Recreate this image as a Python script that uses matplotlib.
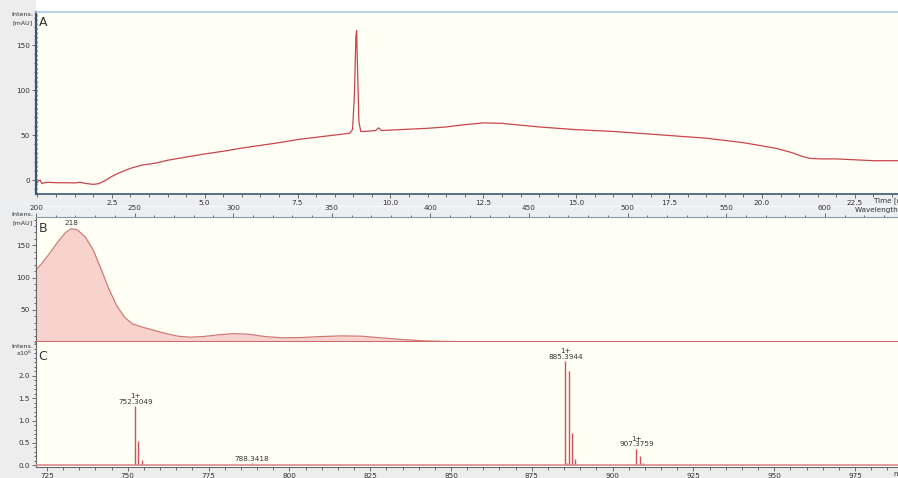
import numpy as np
import matplotlib
matplotlib.use('Agg')
import matplotlib.pyplot as plt
from matplotlib.ticker import MultipleLocator, FixedLocator, FormatStrFormatter
from matplotlib.patches import Rectangle

# A: UV chromatogram (time in min, intensity in mAU)
time_min = [0.45, 0.47, 0.52, 0.57, 0.62, 0.68, 0.8, 1.0, 1.3, 1.5, 1.65, 1.8, 2.0, 2.15,
            2.3, 2.5, 2.7, 3.0, 3.3, 3.7, 4.0, 4.5, 5.0, 5.5, 6.0, 6.5, 7.0, 7.5, 8.0, 8.5,
            8.9, 8.98, 9.03, 9.07, 9.09, 9.11, 9.15, 9.2, 9.3, 9.6, 9.68, 9.76, 10.0, 10.5,
            11.0, 11.5, 12.0, 12.5, 13.0, 13.5, 14.0, 14.5, 15.0, 15.5, 16.0, 16.5, 17.0,
            17.5, 18.0, 18.5, 19.0, 19.5, 20.0, 20.4, 20.8, 21.1, 21.3, 21.6, 22.0, 22.5,
            23.0, 23.7]
uv_mau = [-14, -4, -1, 0, -4, -3, -2.5, -3, -3, -3.2, -2.5, -3.8, -4.8, -4,
          -1, 4, 8, 13, 16.5, 19, 22, 25.5, 29, 32, 35.5, 38.5, 41.5, 45, 47.5, 50,
          52, 56, 95, 160, 166, 130, 65, 54, 54, 55, 58, 55, 55.5, 56.5,
          57.5, 59, 61.5, 63.5, 63, 61, 59, 57.5, 56, 55, 54, 52.5, 51,
          49.5, 48, 46.5, 44, 41.5, 38, 35, 30.5, 26, 24, 23.5, 23.5, 22.5,
          21.5, 21.5]

# B: UV spectrum of the main peak
wavelength = [200, 203, 207, 211, 215, 218, 221, 225, 229, 233, 237, 241, 245, 249, 254,
              260, 266, 272, 278, 285, 292, 300, 308, 316, 325, 335, 345, 355, 365, 375,
              385, 395, 405, 420, 450, 640]
absorb = [112, 122, 138, 155, 170, 176, 174, 163, 143, 113, 82, 56, 38, 28, 23,
          18, 13, 9, 7.5, 8.5, 11, 13, 12, 8.5, 6.5, 7, 8.5, 9.5, 9, 6.5,
          4, 2, 1, 0.3, 0, 0]
uv_max = 218

# C: mass spectrum (m/z, intensity x10^6)
mz = [752.3049, 753.31, 754.31, 788.3418, 789.34, 885.85, 885.3944, 886.40, 887.40,
      888.40, 907.3759, 908.38, 909.38]
ms_int = [1.32, 0.55, 0.12, 0.05, 0.02, 0.06, 2.32, 2.11, 0.73, 0.14, 0.37, 0.22, 0.05]
ms_labels = {752.3049: '1+\n752.3049', 788.3418: '788.3418',
             885.3944: '1+\n885.3944', 907.3759: '1+\n907.3759'}

W, H = 898, 478
trace = '#c8454c'
bg = '#fffff5'
txt = '#333333'
fs = 5.2

fig = plt.figure(figsize=(W / 100, H / 100), dpi=100, facecolor='#ededed')


def px_axes(left, top, right, bottom):
    return fig.add_axes([left / W, 1 - bottom / H, (right - left) / W, (bottom - top) / H])


def fig_text(x, y, s, **kw):
    fig.text(x / W, 1 - y / H, s, **kw)


# background bands (kept beneath the axes and their tick labels)
fig.patches.append(Rectangle((36 / W, 1 - 12 / H), 1, 12 / H, transform=fig.transFigure,
                             facecolor='white', edgecolor='none', zorder=-10))
fig.patches.append(Rectangle((0, 1 - 217 / H), 1, 23 / H, transform=fig.transFigure,
                             facecolor='#eceef0', edgecolor='none', zorder=-10))
fig.lines.append(plt.Line2D([36 / W, 1], [1 - 205.5 / H] * 2, transform=fig.transFigure,
                            color='#f8f8fa', lw=1, zorder=-9))

axA = px_axes(36, 12, 898, 194)
axB = px_axes(36, 217, 898, 342)
axC = px_axes(36, 342, 898, 467)

for ax in (axA, axB, axC):
    ax.set_facecolor(bg)
    ax.spines['right'].set_visible(False)
    ax.tick_params(which='both', direction='out', labelsize=fs, labelcolor=txt,
                   color='#555555', width=0.6, pad=1.5)
    ax.tick_params(which='major', length=3)
    ax.tick_params(which='minor', length=1.8)

# --- A ---
axA.plot(time_min, uv_mau, color=trace, lw=0.9)
axA.axvline(0.5, color='#7fb4d8', lw=0.8, ls=(0, (2, 2)))
axA.set_xlim(0.46, 23.66)
axA.set_ylim(-15.5, 186.7)
axA.xaxis.set_major_locator(MultipleLocator(2.5))
axA.xaxis.set_minor_locator(MultipleLocator(0.5))
axA.xaxis.set_major_formatter(FormatStrFormatter('%.1f'))
axA.yaxis.set_major_locator(MultipleLocator(50))
axA.yaxis.set_minor_locator(MultipleLocator(10))
axA.spines['top'].set_color('#a9cde3')
axA.spines['top'].set_linewidth(1.2)
axA.spines['left'].set_color('#3b5873')
axA.spines['left'].set_linewidth(1.6)
axA.spines['bottom'].set_color('#3b5873')
axA.spines['bottom'].set_linewidth(1.2)

# --- B ---
axB.fill_between(wavelength, absorb, 0, color='#f8d3cd', lw=0)
axB.plot(wavelength, absorb, color='#d07a78', lw=0.9)
axB.axhline(0, color='#d0676d', lw=2.2, clip_on=False, zorder=5)
axB.set_xlim(200, 637.1)
axB.set_ylim(0, 194)
axB.xaxis.tick_top()
axB.xaxis.set_major_locator(MultipleLocator(50))
axB.xaxis.set_minor_locator(MultipleLocator(10))
axB.yaxis.set_major_locator(FixedLocator([50, 100, 150]))
axB.yaxis.set_minor_locator(MultipleLocator(10))
axB.spines['bottom'].set_color('#6a5a5a')
axB.spines['bottom'].set_linewidth(1.0)
axB.spines['top'].set_color('#8899aa')
axB.spines['left'].set_color('#666666')
axB.text(uv_max, absorb[wavelength.index(uv_max)] + 4, str(uv_max), ha='center',
         va='bottom', fontsize=fs, color=txt)

# --- C ---
axC.vlines(mz, 0, ms_int, color='#d2505a', lw=1.0)
axC.axhline(0, color='#d98a8e', lw=1.2, zorder=3)
axC.set_xlim(721.6, 988.3)
axC.set_ylim(-0.035, 2.75)
axC.xaxis.set_major_locator(MultipleLocator(25))
axC.xaxis.set_minor_locator(MultipleLocator(5))
axC.yaxis.set_major_locator(FixedLocator([0.0, 0.5, 1.0, 1.5, 2.0]))
axC.yaxis.set_minor_locator(MultipleLocator(0.1))
axC.yaxis.set_major_formatter(FormatStrFormatter('%.1f'))
axC.spines['top'].set_visible(False)
axC.spines['left'].set_color('#666666')
axC.spines['bottom'].set_color('#6a6a6a')
for m, lab in ms_labels.items():
    axC.text(m, ms_int[mz.index(m)] + 0.03, lab, ha='center', va='bottom',
             fontsize=fs, color=txt, linespacing=0.95)

# panel letters
for y, letter in ((22, 'A'), (229, 'B'), (357, 'C')):
    fig_text(43, y, letter, fontsize=9, color='#333333', ha='center', va='center')

# axis titles
fig_text(33, 15, 'Intens.', fontsize=4.6, color=txt, ha='right', va='center')
fig_text(33, 23, '[mAU]', fontsize=4.6, color=txt, ha='right', va='center')
fig_text(33, 215, 'Intens.', fontsize=4.6, color=txt, ha='right', va='center')
fig_text(33, 223, '[mAU]', fontsize=4.6, color=txt, ha='right', va='center')
fig_text(33, 346, 'Intens.', fontsize=4.6, color=txt, ha='right', va='center')
fig_text(33, 353, r'x10$^6$', fontsize=4.6, color=txt, ha='right', va='center')
fig_text(874, 201, 'Time [min]', fontsize=fs, color=txt, ha='left', va='center')
fig_text(855, 210, 'Wavelength [nm]', fontsize=fs, color=txt, ha='left', va='center')
fig_text(893, 474, 'm/z', fontsize=fs, color=txt, ha='left', va='center')

fig.savefig('out.png', dpi=100, facecolor=fig.get_facecolor())
